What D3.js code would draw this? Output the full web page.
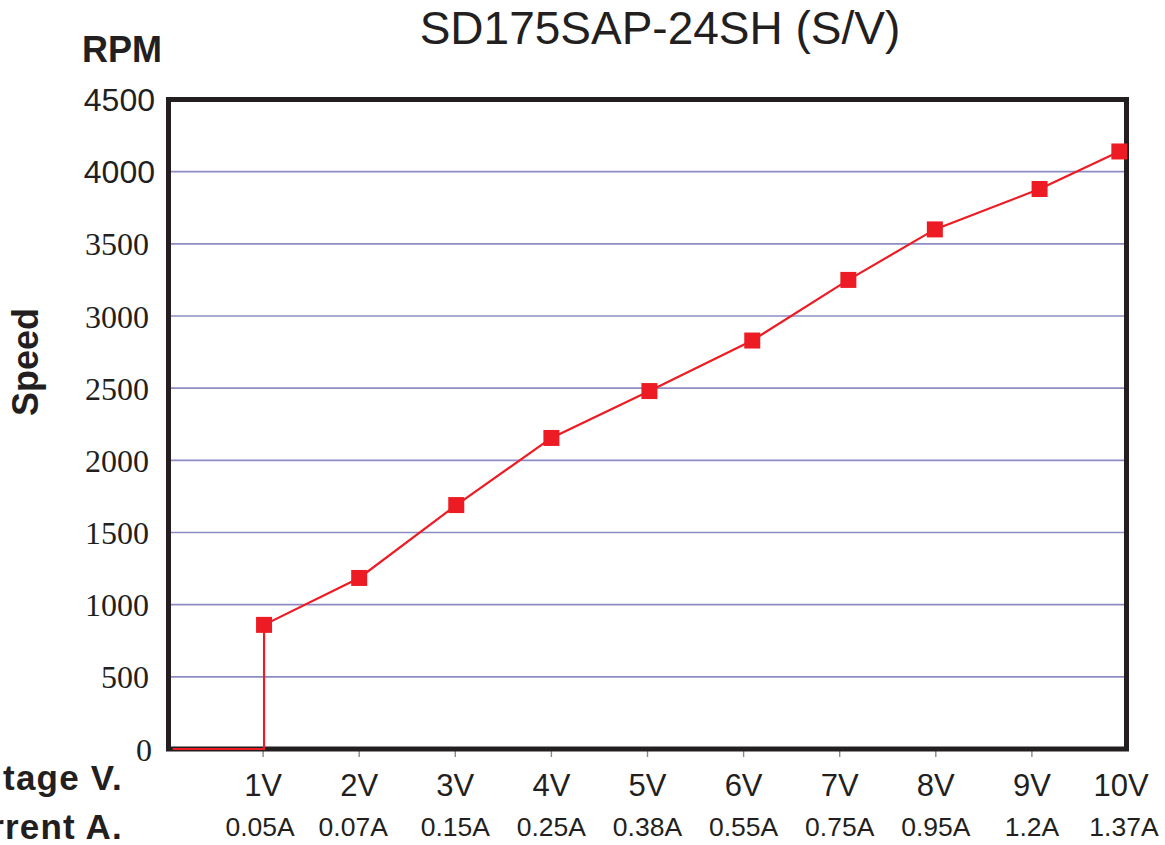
<!DOCTYPE html>
<html>
<head>
<meta charset="utf-8">
<script src="https://cdn.jsdelivr.net/npm/d3@7/dist/d3.min.js"></script>
<style>
  html, body { margin: 0; padding: 0; background: #fff; }
  svg { display: block; }
  .serif { font-family: "Liberation Serif", "DejaVu Serif", "Times New Roman", serif; }
  .sans { font-family: "Liberation Sans", Arial, Helvetica, sans-serif; }
</style>
</head>
<body>
<script>
// ---- data ----
const title = "SD175SAP-24SH (S/V)";
const voltageTicks = [1, 2, 3, 4, 5, 6, 7, 8, 9, 10];
const voltageLabels = ["1V", "2V", "3V", "4V", "5V", "6V", "7V", "8V", "9V", "10V"];
const currentLabels = ["0.05A", "0.07A", "0.15A", "0.25A", "0.38A", "0.55A", "0.75A", "0.95A", "1.2A", "1.37A"];
// marker positions (volts) and speeds (RPM)
const markerVolts = [1.01, 2.0, 3.01, 4.0, 5.02, 6.09, 7.09, 7.99, 9.08, 9.91];
const speedRPM = [860, 1185, 1690, 2155, 2480, 2830, 3250, 3600, 3880, 4140];
// zero-speed lead-in before start-up
const leadVolts = [0.06, 1.01];
const leadRPM = [0, 0];
const yTicks = [0, 500, 1000, 1500, 2000, 2500, 3000, 3500, 4000, 4500];

// ---- setup ----
const W = 1165, H = 845;
const svg = d3.select("body").append("svg").attr("width", W).attr("height", H);

const x = d3.scaleLinear().domain([0, 10]).range([167, 1128]);
const y = d3.scaleLinear().domain([0, 4500]).range([749, 99.5]);

const red = "#ed1c24";
const dark = "#231f20";

// gridlines
svg.append("g").selectAll("line")
  .data(yTicks.filter(d => d > 0 && d < 4500))
  .join("line")
  .attr("x1", x(0)).attr("x2", x(10) - 2)
  .attr("y1", d => y(d)).attr("y2", d => y(d))
  .attr("stroke", "#8c8cc4").attr("stroke-width", 1.6);

// y tick labels
svg.append("g").selectAll("text")
  .data(yTicks)
  .join("text")
  .attr("class", d => d >= 4000 ? "sans" : "serif")
  .attr("x", d => d >= 4000 ? 155 : (d === 0 ? 152 : 149))
  .attr("y", d => y(d))
  .attr("dy", "0.36em")
  .attr("text-anchor", "end")
  .style("font-size", "32px")
  .attr("fill", dark)
  .text(d => d);

// x-axis small ticks below frame
svg.append("g").selectAll("line")
  .data(voltageTicks.filter(d => d < 10))
  .join("line")
  .attr("x1", d => x(d)).attr("x2", d => x(d))
  .attr("y1", 751).attr("y2", 757)
  .attr("stroke", "#8a8a8a").attr("stroke-width", 1.4);

// x labels: voltage
svg.append("g").selectAll("text")
  .data(voltageTicks)
  .join("text")
  .attr("class", "sans")
  .attr("x", d => x(d) + (d === 10 ? -7 : 0))
  .attr("y", 796)
  .attr("text-anchor", "middle")
  .style("font-size", "31px")
  .attr("fill", dark)
  .text((d, i) => voltageLabels[i]);

// x labels: current
svg.append("g").selectAll("text")
  .data(voltageTicks)
  .join("text")
  .attr("class", "sans")
  .attr("x", d => x(d) + (d === 10 ? -4 : (d === 2 ? -6 : (d === 1 ? -3 : 0))))
  .attr("y", 836)
  .attr("text-anchor", "middle")
  .style("font-size", "26.5px")
  .attr("fill", dark)
  .text((d, i) => currentLabels[i]);

// data line
const pts = leadVolts.map((v, i) => [v, leadRPM[i]])
  .concat(markerVolts.map((v, i) => [v, speedRPM[i]]));
const line = d3.line().x(d => x(d[0])).y(d => y(d[1]));

// frame
svg.append("rect")
  .attr("x", x(0) + 1.5).attr("y", y(4500))
  .attr("width", x(10) - x(0) - 3).attr("height", y(0) - y(4500))
  .attr("fill", "none").attr("stroke", dark).attr("stroke-width", 5);

svg.append("path")
  .datum(pts)
  .attr("d", line)
  .attr("fill", "none")
  .attr("stroke", red)
  .attr("stroke-width", 2.2);

// markers
const ms = 16;
svg.append("g").selectAll("rect")
  .data(markerVolts.map((v, i) => [v, speedRPM[i]]))
  .join("rect")
  .attr("x", d => x(d[0]) - ms / 2)
  .attr("y", d => y(d[1]) - ms / 2)
  .attr("width", ms).attr("height", ms)
  .attr("fill", red);

// titles / axis names
svg.append("text")
  .attr("class", "sans")
  .attr("x", 660).attr("y", 44)
  .attr("text-anchor", "middle")
  .style("font-size", "46px")
  .attr("fill", dark)
  .text(title);

svg.append("text")
  .attr("class", "sans")
  .attr("x", 82).attr("y", 62)
  .style("font-size", "36px").style("font-weight", "bold")
  .attr("fill", dark)
  .text("RPM");

svg.append("text")
  .attr("class", "sans")
  .attr("transform", "translate(38,362) rotate(-90)")
  .attr("text-anchor", "middle")
  .style("font-size", "36px").style("font-weight", "bold")
  .attr("fill", dark)
  .text("Speed");

svg.append("text")
  .attr("class", "sans")
  .attr("x", 123).attr("y", 790)
  .attr("text-anchor", "end")
  .style("font-size", "35px").style("font-weight", "bold")
  .style("letter-spacing", "1.2px")
  .attr("fill", dark)
  .text("Voltage V.");

svg.append("text")
  .attr("class", "sans")
  .attr("x", 123).attr("y", 839)
  .attr("text-anchor", "end")
  .style("font-size", "35px").style("font-weight", "bold")
  .style("letter-spacing", "1.2px")
  .attr("fill", dark)
  .text("Current A.");
</script>
</body>
</html>
